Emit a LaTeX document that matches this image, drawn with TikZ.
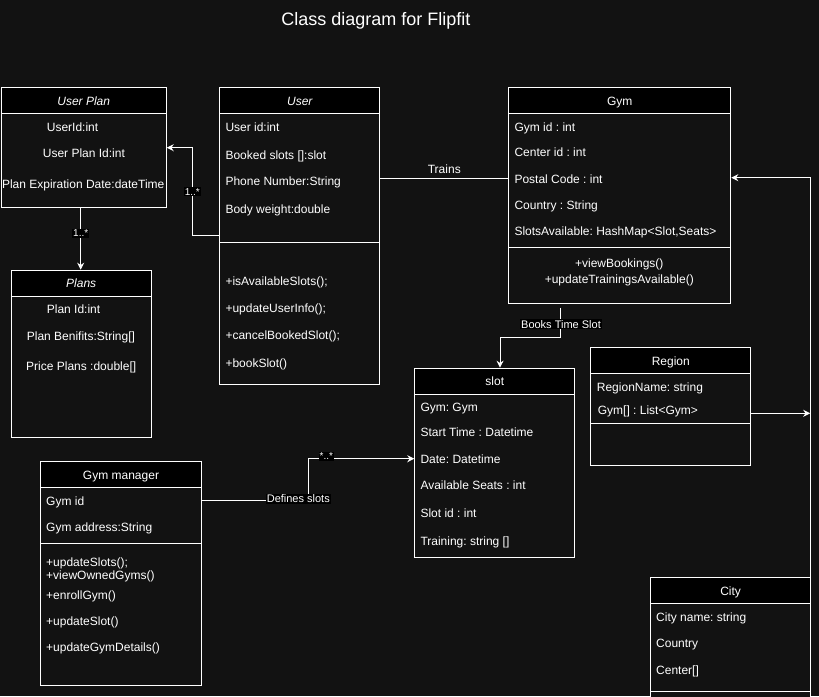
\documentclass[tikz,border=0pt]{standalone}
\usepackage{fontspec}
\setmainfont{Liberation Sans}
\usetikzlibrary{arrows.meta,calc}
\definecolor{bgc}{HTML}{121212}
\frenchspacing
\tikzset{
  boxc/.style={draw=white, line width=1pt, fill=bgc, anchor=north west, inner sep=0pt},
  hdr/.style={draw=white, line width=1pt, fill=black, anchor=north west, inner sep=0pt, minimum height=26pt, text height=8.6pt, text depth=0pt, text=white, font=\fontsize{12}{14}\selectfont},
  attr/.style={anchor=base west, yshift=-4.3pt, inner sep=0pt, text=white, font=\fontsize{12}{14}\selectfont},
  mid/.style={anchor=base, yshift=-4.3pt, inner sep=0pt, text=white, font=\fontsize{12}{14}\selectfont},
  lbl/.style={fill=black, text=white, inner sep=1pt, font=\fontsize{11}{13}\selectfont},
  slbl/.style={fill=black, text=white, inner sep=1pt, font=\fontsize{10}{12}\selectfont},
  conn/.style={draw=white, line width=1pt},
  arr/.style={conn, -{Stealth[length=7pt,width=7pt]}}
}
\begin{document}
\begin{tikzpicture}[x=1pt,y=-1pt]
\fill[bgc] (0,0) rectangle (819,696);
\useasboundingbox (0,0) rectangle (819,696);
\clip (0,0) rectangle (819,696);

\node[text=white, font=\fontsize{18}{21}\selectfont] (title) at (376,21) {Class diagram for Flipfit};

% User Plan
\node[boxc, minimum width=165pt, minimum height=120pt] (uplan) at (0.7,87.3) {};
\node[hdr, minimum width=165pt] (uplanh) at (0.7,87.3) {\itshape User Plan};
\node[attr] (up1) at (46.7,126.7) {UserId:int};
\node[attr] (up2) at (42.7,153.3) {User Plan Id:int};
\node[mid] (up3) at (83.2,184) {Plan Expiration Date:dateTime};

% Plans
\node[boxc, minimum width=140pt, minimum height=167.6pt] (plans) at (10.7,269.7) {};
\node[hdr, minimum width=140pt] (plansh) at (10.7,269.7) {\itshape Plans};
\node[attr] (pl1) at (46.7,309) {Plan Id:int};
\node[attr] (pl2) at (26.7,336.3) {Plan Benifits:String[]};
\node[attr] (pl3) at (26,365.7) {Price Plans :double[]};

% User
\node[boxc, minimum width=160pt, minimum height=297pt] (user) at (219.3,87.3) {};
\node[hdr, minimum width=160pt] (userh) at (219.3,87.3) {\itshape User};
\node[attr] (us1) at (225.3,126.7) {User id:int};
\node[attr] (us2) at (225.3,155) {Booked slots []:slot};
\node[attr] (us3) at (225.3,180.7) {Phone Number:String};
\node[attr] (us4) at (225.3,209) {Body weight:double};
\draw[conn] ($(user.north west)+(0,155)$) -- ($(user.north east)+(0,155)$);
\node[attr] (us5) at (225.3,281) {+isAvailableSlots();};
\node[attr] (us6) at (225.3,307.7) {+updateUserInfo();};
\node[attr] (us7) at (225.3,335) {+cancelBookedSlot();};
\node[attr] (us8) at (225.3,363) {+bookSlot()};

% Gym
\node[boxc, minimum width=222pt, minimum height=215.4pt] (gym) at (508.3,87.3) {};
\node[hdr, minimum width=222pt] (gymh) at (508.3,87.3) {Gym};
\node[attr] (gy1) at (514.3,126.7) {Gym id : int};
\node[attr] (gy2) at (514.3,152.3) {Center id : int};
\node[attr] (gy3) at (514.3,178.7) {Postal Code : int};
\node[attr] (gy4) at (514.3,205) {Country : String};
\node[attr] (gy5) at (514.3,231) {SlotsAvailable: HashMap<Slot,Seats>};
\draw[conn] ($(gym.north west)+(0,160)$) -- ($(gym.north east)+(0,160)$);
\node[mid] (gy6) at (619.3,263.3) {+viewBookings()};
\node[mid] (gy7) at (619.3,279) {+updateTrainingsAvailable()};

% slot
\node[boxc, minimum width=160pt, minimum height=189.6pt] (slot) at (414.3,367.7) {};
\node[hdr, minimum width=160pt] (sloth) at (414.3,367.7) {slot};
\node[attr] (sl1) at (420.3,406.7) {Gym: Gym};
\node[attr] (sl2) at (420.3,432.3) {Start Time : Datetime};
\node[attr] (sl3) at (420.3,458.7) {Date: Datetime};
\node[attr] (sl4) at (420.3,485) {Available Seats : int};
\node[attr] (sl5) at (420.3,512.7) {Slot id : int};
\node[attr] (sl6) at (420.3,541) {Training: string []};

% Region
\node[boxc, minimum width=160pt, minimum height=118pt] (region) at (590.3,347.3) {};
\node[hdr, minimum width=160pt] (regionh) at (590.3,347.3) {Region};
\node[attr] (rg1) at (596.7,386.7) {RegionName: string};
\node[attr] (rg2) at (597.7,410) {Gym[] : List<Gym>};
\draw[conn] ($(region.north west)+(0,76)$) -- ($(region.north east)+(0,76)$);

% Gym manager
\node[boxc, minimum width=160.4pt, minimum height=224pt] (gm) at (40.3,461.3) {};
\node[hdr, minimum width=160.4pt] (gmh) at (40.3,461.3) {Gym manager};
\node[attr] (gm1) at (46,501) {Gym id};
\node[attr] (gm2) at (46,527.3) {Gym address:String};
\draw[conn] ($(gm.north west)+(0,82)$) -- ($(gm.north east)+(0,82)$);
\node[attr] (gm3) at (46,561.7) {+updateSlots();};
\node[attr] (gm4) at (46,575) {+viewOwnedGyms()};
\node[attr] (gm5) at (46,595) {+enrollGym()};
\node[attr] (gm6) at (46,621) {+updateSlot()};
\node[attr] (gm7) at (46,646.7) {+updateGymDetails()};

% City
\node[boxc, minimum width=159.7pt, minimum height=140pt] (city) at (650.3,577.3) {};
\node[hdr, minimum width=159.7pt] (cityh) at (650.3,577.3) {City};
\node[attr] (ct1) at (656,616.7) {City name: string};
\node[attr] (ct2) at (656,642.7) {Country};
\node[attr] (ct3) at (656,670) {Center[]};
\draw[conn] ($(city.north west)+(0,114.4)$) -- ($(city.north east)+(0,114.4)$);

% Connectors
\draw[arr] ($(user.north west)+(0,148.4)$) -- ++(-27,0) |- ($(uplan.north east)+(0,60.4)$)
  node[pos=0.25, slbl] (l1) {1..*};
\draw[arr] (uplan.south -| 80.7,0) -- (80.7,269.7)
  node[pos=0.41, slbl] (l2) {1..*};
\draw[conn] ($(user.north east)+(0,91.4)$) -- ($(gym.north west)+(0,91.4)$)
  node[midway, above=1pt, text=white, font=\fontsize{12}{14}\selectfont] (l3) {Trains};
\coordinate (bts) at (560.3,307.7);
\draw[arr] (bts) -- ++(0,29.6) -| ($(slot.north west)+(85.7,0)$);
\node[lbl] (l4) at (561,324.3) {Books Time Slot};
\draw[arr] ($(gm.north east)+(0,39)$) -- ++(106.6,0) |- ($(slot.north west)+(0,91)$);
\node[lbl] (l5) at (298.3,498.7) {Defines slots};
\node[slbl] (l6) at (326.3,456.5) {*..*};
\coordinate (cbot) at (810.7,700);
\draw[arr] (cbot) |- ($(gym.north east)+(0,90.4)$);
\coordinate (rj) at (810.2,413.3);
\draw[arr] ($(region.north east)+(0,66)$) -- (rj);
\end{tikzpicture}
\end{document}
